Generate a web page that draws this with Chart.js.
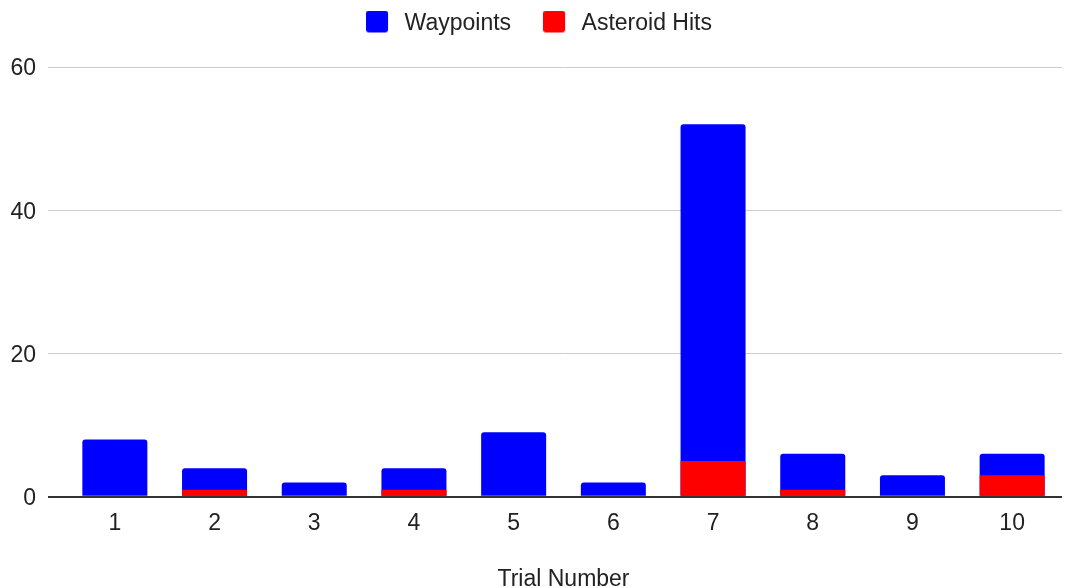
<!DOCTYPE html>
<html>
<head>
<meta charset="utf-8">
<script src="https://cdn.jsdelivr.net/npm/chart.js@4/dist/chart.umd.min.js"></script>
<style>
  html, body { margin: 0; padding: 0; background: #fff; }
  #wrap { width: 1074px; height: 588px; }
</style>
</head>
<body>
<div id="wrap"><canvas id="myBarChart"></canvas></div>
<script>
var trials = ['1', '2', '3', '4', '5', '6', '7', '8', '9', '10'];
var waypoints = [8, 4, 2, 4, 9, 2, 52, 6, 3, 6];
var asteroidHits = [0, 1, 0, 1, 0, 0, 5, 1, 0, 3];
var yTicks = [0, 20, 40, 60];

// legend square drawn on a small canvas, so the gap to the text can be wider
function legendSwatch(color) {
    var c = document.createElement('canvas');
    c.width = 27;
    c.height = 26;
    var g = c.getContext('2d');
    g.fillStyle = color;
    g.beginPath();
    g.roundRect(0, 0, 22, 22, 3);
    g.fill();
    return c;
}

// extra room between legend and plot, legend nudged right a little
var legendTweak = {
    id: 'legendTweak',
    beforeInit: function (chart) {
        var lg = chart.legend;
        var fit = lg.fit;
        var draw = lg.draw;
        lg.fit = function () {
            fit.call(this);
            this.height += 22;
        };
        lg.draw = function () {
            this.ctx.save();
            this.ctx.translate(8, 0);
            draw.apply(this, arguments);
            this.ctx.restore();
        };
    }
};

document.addEventListener('DOMContentLoaded', function () {
    var ctx = document.getElementById('myBarChart').getContext('2d');
    Chart.defaults.font.family = '"Liberation Sans", Arial, sans-serif';
    Chart.defaults.color = '#222';
    var swatches = [legendSwatch('#0000ff'), legendSwatch('#ff0000')];

    var myBarChart = new Chart(ctx, {
        type: 'bar',
        data: {
            labels: trials,
            datasets: [{
                label: 'Waypoints',
                data: waypoints,
                backgroundColor: '#0000ff',
                borderRadius: 3,
                grouped: false,
                order: 2
            }, {
                label: 'Asteroid Hits',
                data: asteroidHits,
                backgroundColor: '#ff0000',
                borderRadius: 0,
                grouped: false,
                order: 1
            }]
        },
        options: {
            responsive: true,
            maintainAspectRatio: false,
            animation: false,
            layout: {
                padding: { left: 0, right: 12, top: -20, bottom: -5 }
            },
            datasets: {
                bar: { categoryPercentage: 1, barPercentage: 0.652 }
            },
            plugins: {
                legend: {
                    position: 'top',
                    labels: {
                        font: { size: 23 },
                        color: '#222',
                        usePointStyle: true,
                        pointStyleWidth: 27,
                        boxHeight: 22,
                        padding: 32,
                        generateLabels: function (chart) {
                            var items = Chart.defaults.plugins.legend.labels.generateLabels(chart);
                            items.forEach(function (it) { it.pointStyle = swatches[it.datasetIndex]; });
                            return items;
                        },
                        sort: function (a, b) { return a.datasetIndex - b.datasetIndex; }
                    }
                },
                tooltip: { enabled: false }
            },
            scales: {
                x: {
                    grid: { display: false },
                    border: { display: false },
                    ticks: { font: { size: 23 }, color: '#222', padding: 5 },
                    title: {
                        display: true,
                        text: 'Trial Number',
                        font: { size: 23 },
                        color: '#222',
                        padding: { top: 23, bottom: 0 }
                    }
                },
                y: {
                    min: 0,
                    max: 60,
                    afterBuildTicks: function (scale) {
                        scale.ticks = yTicks.map(function (v) { return { value: v }; });
                    },
                    afterFit: function (scale) { scale.width = 65; },
                    border: { display: false },
                    grid: {
                        color: function (c) { return c.tick && c.tick.value === 0 ? '#333' : '#ccc'; },
                        lineWidth: function (c) { return c.tick && c.tick.value === 0 ? 2 : 1; },
                        tickLength: 17,
                        tickColor: function (c) { return c.tick && c.tick.value === 0 ? '#333' : '#ccc'; }
                    },
                    ticks: { font: { size: 23 }, color: '#222', padding: 12, labelOffset: 2 }
                }
            }
        },
        plugins: [legendTweak]
    });
});
</script>
</body>
</html>
